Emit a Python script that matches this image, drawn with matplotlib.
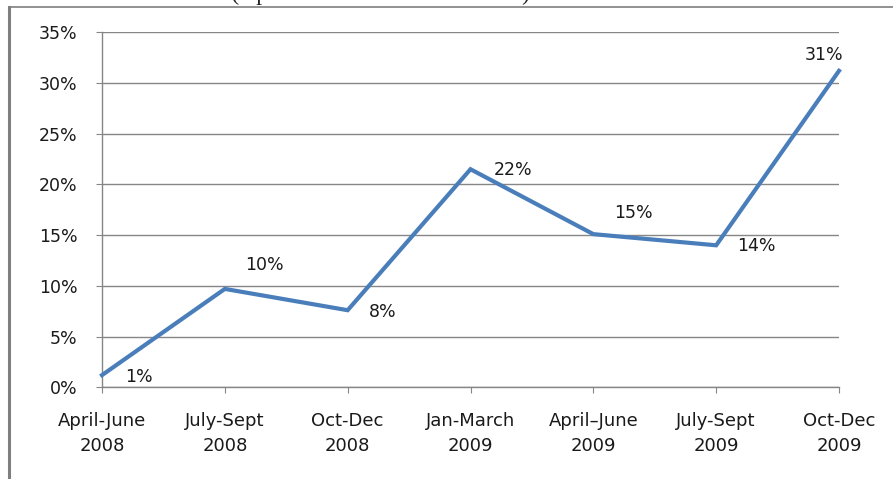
import matplotlib
matplotlib.use("Agg")
import matplotlib.pyplot as plt
from matplotlib.lines import Line2D
from matplotlib.ticker import MultipleLocator, FuncFormatter

# ---- data ----
categories = ["April-June\n2008", "July-Sept\n2008", "Oct-Dec\n2008", "Jan-March\n2009",
              "April\u2013June\n2009", "July-Sept\n2009", "Oct-Dec\n2009"]
growth = [1.2, 9.7, 7.6, 21.5, 15.1, 14.0, 31.2]
value_labels = ["1%", "10%", "8%", "22%", "15%", "14%", "31%"]

# label offsets in pixels (style only)
label_offsets = [(37, -2), (40, 24), (35, -2), (43, -1), (40, 21), (40, -1), (-15, 16)]

W, H = 893, 479
fig = plt.figure(figsize=(W / 100, H / 100), dpi=100)
fig.patch.set_facecolor("white")

left, right, top, bottom = 102, 839, 32.3, 387.3
ax = fig.add_axes([left / W, 1 - bottom / H, (right - left) / W, (bottom - top) / H])

grid_col = "#868686"
line_col = "#4A7EBB"
font = "DejaVu Sans"
fs = 12.5

x = list(range(len(categories)))
ax.plot(x, growth, color=line_col, lw=3.0, solid_joinstyle="miter", zorder=3, clip_on=False)

for xi, yi, lab, off in zip(x, growth, value_labels, label_offsets):
    ax.annotate(lab, (xi, yi), xytext=off, textcoords="offset pixels",
                ha="center", va="center", fontsize=fs, family=font, color="#1a1a1a")

ax.set_xlim(0, len(categories) - 1)
ax.set_ylim(0, 35)
ax.yaxis.set_major_locator(MultipleLocator(5))
ax.yaxis.set_major_formatter(FuncFormatter(lambda v, p: f"{v:.0f}%"))
ax.set_xticks(x)
ax.set_xticklabels(categories, fontsize=13, family=font, linespacing=1.5)
for t in ax.get_yticklabels():
    t.set_fontsize(fs)
    t.set_family(font)

ax.grid(axis="y", color=grid_col, lw=1)
ax.set_axisbelow(True)
for s in ["top", "right"]:
    ax.spines[s].set_visible(False)
for s in ["left", "bottom"]:
    ax.spines[s].set_color(grid_col)
    ax.spines[s].set_linewidth(1)
ax.tick_params(axis="y", length=4.5, color=grid_col, pad=13, labelcolor="#1a1a1a")
ax.tick_params(axis="x", length=4.5, color=grid_col, pad=13, labelcolor="#1a1a1a")

# outer chart border (left + top)
fig.add_artist(Line2D([9 / W, 9 / W], [0, 1 - 7 / H], color="#7f7f7f", lw=2.2,
                      transform=fig.transFigure))
fig.add_artist(Line2D([9 / W, 1], [1 - 7 / H, 1 - 7 / H], color="#7f7f7f", lw=1.2,
                      transform=fig.transFigure))

# partially visible caption above the chart (cut off by the top edge)
fig.text(-2 / W, 1.0, "Chart: Growth in Sector (April 2008 to December 2009)",
         family="Liberation Serif", fontsize=17, va="baseline", ha="left", color="#222222")

fig.savefig("out.png", dpi=100)
